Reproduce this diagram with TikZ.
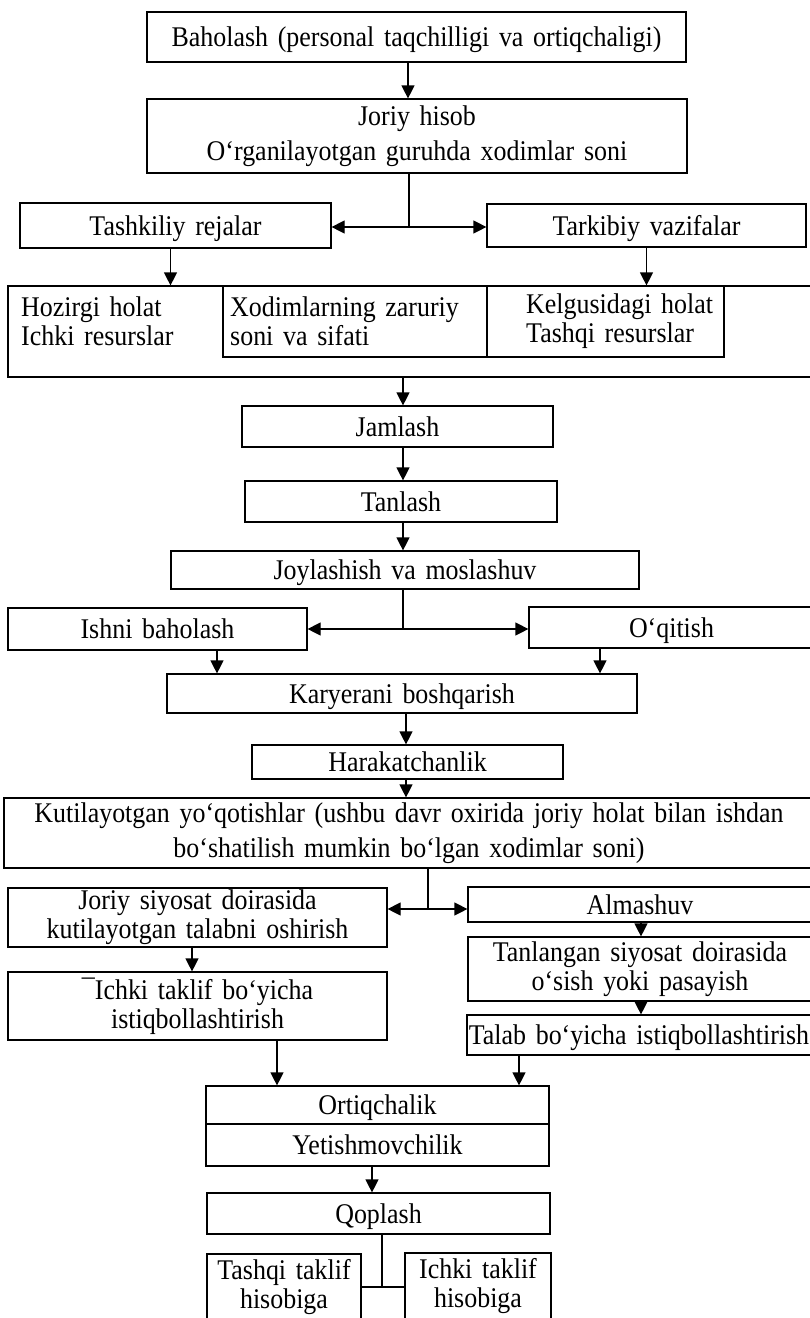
\documentclass[tikz,border=0pt]{standalone}
\usepackage{fontspec}
\setmainfont{Liberation Serif}[FakeStretch=0.91, WordSpace=1.5]
\usetikzlibrary{arrows.meta}

\begin{document}
\begin{tikzpicture}[x=1pt, y=-1pt,
        box/.style={draw, line width=1.2pt, inner sep=0pt, align=center,
            font=\fontsize{28.5}{29}\selectfont},
        oneline/.style={text height=25pt, text depth=6pt},
        wide/.style={font=\fontsize{28.5}{34.5}\selectfont},
        txt/.style={anchor=west, align=left, inner sep=0pt, font=\fontsize{28.5}{29}\selectfont},
        arr/.style={line width=1.2pt, -{Triangle[length=13pt,width=13pt]}},
        link/.style={line width=1.2pt}]
        \useasboundingbox (0,0) rectangle (810,1318);

        % Columns of the connectors
        \coordinate (s1) at (408,0);
        \coordinate (s2) at (403,0);
        \coordinate (s3) at (217,0);
        \coordinate (s4) at (600,0);
        \coordinate (s5) at (406,0);
        \coordinate (s6) at (192,0);
        \coordinate (s7) at (641,0);
        \coordinate (s8) at (277,0);
        \coordinate (s9) at (519,0);
        \coordinate (s10) at (372,0);
        \coordinate (j1) at (409,227);
        \coordinate (j2) at (403,629);
        \coordinate (j3) at (428,909);
        \coordinate (j4) at (382,1287);

        % Upper part
        \node[box, oneline, minimum width=539pt, minimum height=50pt] (baho) at (416.5,37) {Baholash (personal taqchilligi va ortiqchaligi)};
        \node[box, wide, minimum width=540pt, minimum height=74pt] (joriy) at (417,136) {Joriy hisob\\O‘rganilayotgan guruhda xodimlar soni};
        \node[box, oneline, minimum width=311pt, minimum height=45pt] (tashkil) at (175.5,225.5) {Tashkiliy rejalar};
        \node[box, oneline, minimum width=319pt, minimum height=43pt] (tarkib) at (646.5,225.5) {Tarkibiy vazifalar};

        % Resources box with its cells
        \node[box, minimum width=807pt, minimum height=91pt] (big) at (411.5,331.5) {};
        \node[box, minimum width=264pt, minimum height=71pt] (zarur) at (355,321.5) {};
        \node[box, minimum width=237pt, minimum height=71pt] (kelgus) at (605.5,321.5) {};
        \node[txt] (hozir) at (21,321.5) {Hozirgi holat\\Ichki resurslar};
        \node[txt] (zartxt) at (230,321.5) {Xodimlarning zaruriy\\soni va sifati};
        \node[txt] (keltxt) at (526,321.5) {Kelgusidagi holat\\Tashqi resurslar};

        % Middle chain
        \node[box, oneline, minimum width=311pt, minimum height=41pt] (jamlash) at (397.5,426.5) {Jamlash};
        \node[box, oneline, minimum width=312pt, minimum height=41pt] (tanlash) at (401,501.5) {Tanlash};
        \node[box, oneline, minimum width=468pt, minimum height=38pt] (joylash) at (405,570) {Joylashish va moslashuv};
        \node[box, oneline, minimum width=299pt, minimum height=42pt] (ishni) at (157.5,629) {Ishni baholash};
        \node[box, oneline, minimum width=285pt, minimum height=41pt] (oqitish) at (671.5,627.5) {O‘qitish};
        \node[box, oneline, minimum width=470pt, minimum height=39pt] (karyera) at (402,693.5) {Karyerani boshqarish};
        \node[box, oneline, minimum width=311pt, minimum height=34pt] (harakat) at (407.5,762) {Harakatchanlik};
        \node[box, wide, minimum width=810pt, minimum height=70pt] (kutil) at (409,833) {Kutilayotgan yo‘qotishlar (ushbu davr oxirida joriy holat bilan ishdan\\bo‘shatilish mumkin bo‘lgan xodimlar soni)};

        % Two branches
        \node[box, minimum width=379pt, minimum height=59pt] (joriysiy) at (197.5,917.5) {Joriy siyosat doirasida\\kutilayotgan talabni oshirish};
        \node[box, minimum width=379pt, minimum height=68pt] (ichkitak) at (197.5,1006) {¯Ichki taklif bo‘yicha\\istiqbollashtirish};
        \node[box, oneline, minimum width=344pt, minimum height=35pt] (almash) at (640,904.5) {Almashuv};
        \node[box, minimum width=344pt, minimum height=64pt] (tanlang) at (640,969) {Tanlangan siyosat doirasida\\o‘sish yoki pasayish};
        \node[box, oneline, minimum width=344pt, minimum height=40pt] (talab) at (639,1035) {Talab bo‘yicha istiqbollashtirish};

        % Lower part
        \node[box, oneline, minimum width=343pt, minimum height=38pt] (ortiq) at (377.5,1105) {Ortiqchalik};
        \node[box, oneline, minimum width=343pt, minimum height=42pt] (yetish) at (377.5,1145) {Yetishmovchilik};
        \node[box, oneline, minimum width=343pt, minimum height=41pt] (qoplash) at (378.5,1213.5) {Qoplash};
        \node[box, minimum width=154pt, minimum height=66pt] (tashqi) at (284,1287) {Tashqi taklif\\hisobiga};
        \node[box, minimum width=146pt, minimum height=67pt] (ichkih) at (478,1286.5) {Ichki taklif\\hisobiga};

        % Draw the connectors
        \draw[arr] (baho.south -| s1) -- (joriy.north -| s1);
        \draw[link] (joriy.south -| j1) -- (j1);
        \draw[arr] (j1) -- (tashkil.east |- j1);
        \draw[arr] (j1) -- (tarkib.west |- j1);
        \draw[arr] ([xshift=-5pt]tashkil.south) -- ([xshift=-5pt]tashkil.south |- big.north);
        \draw[arr] (tarkib.south) -- (tarkib.south |- big.north);
        \draw[arr] (big.south -| s2) -- (jamlash.north -| s2);
        \draw[arr] (jamlash.south -| s2) -- (tanlash.north -| s2);
        \draw[arr] (tanlash.south -| s2) -- (joylash.north -| s2);
        \draw[link] (joylash.south -| j2) -- (j2);
        \draw[arr] (j2) -- (ishni.east |- j2);
        \draw[arr] (j2) -- (oqitish.west |- j2);
        \draw[arr] (ishni.south -| s3) -- (karyera.north -| s3);
        \draw[arr] (oqitish.south -| s4) -- (karyera.north -| s4);
        \draw[arr] (karyera.south -| s5) -- (harakat.north -| s5);
        \draw[arr] (harakat.south -| s5) -- (kutil.north -| s5);
        \draw[link] (kutil.south -| j3) -- (j3);
        \draw[arr] (j3) -- (joriysiy.east |- j3);
        \draw[arr] (j3) -- (almash.west |- j3);
        \draw[arr] (joriysiy.south -| s6) -- (ichkitak.north -| s6);
        \draw[arr] (almash.south -| s7) -- (tanlang.north -| s7);
        \draw[arr] (tanlang.south -| s7) -- (talab.north -| s7);
        \draw[arr] (ichkitak.south -| s8) -- (ortiq.north -| s8);
        \draw[arr] (talab.south -| s9) -- (ortiq.north -| s9);
        \draw[arr] (yetish.south -| s10) -- (qoplash.north -| s10);
        \draw[link] (qoplash.south -| j4) -- (j4);
        \draw[link] (tashqi.east |- j4) -- (ichkih.west |- j4);
    \end{tikzpicture}
\end{document}
